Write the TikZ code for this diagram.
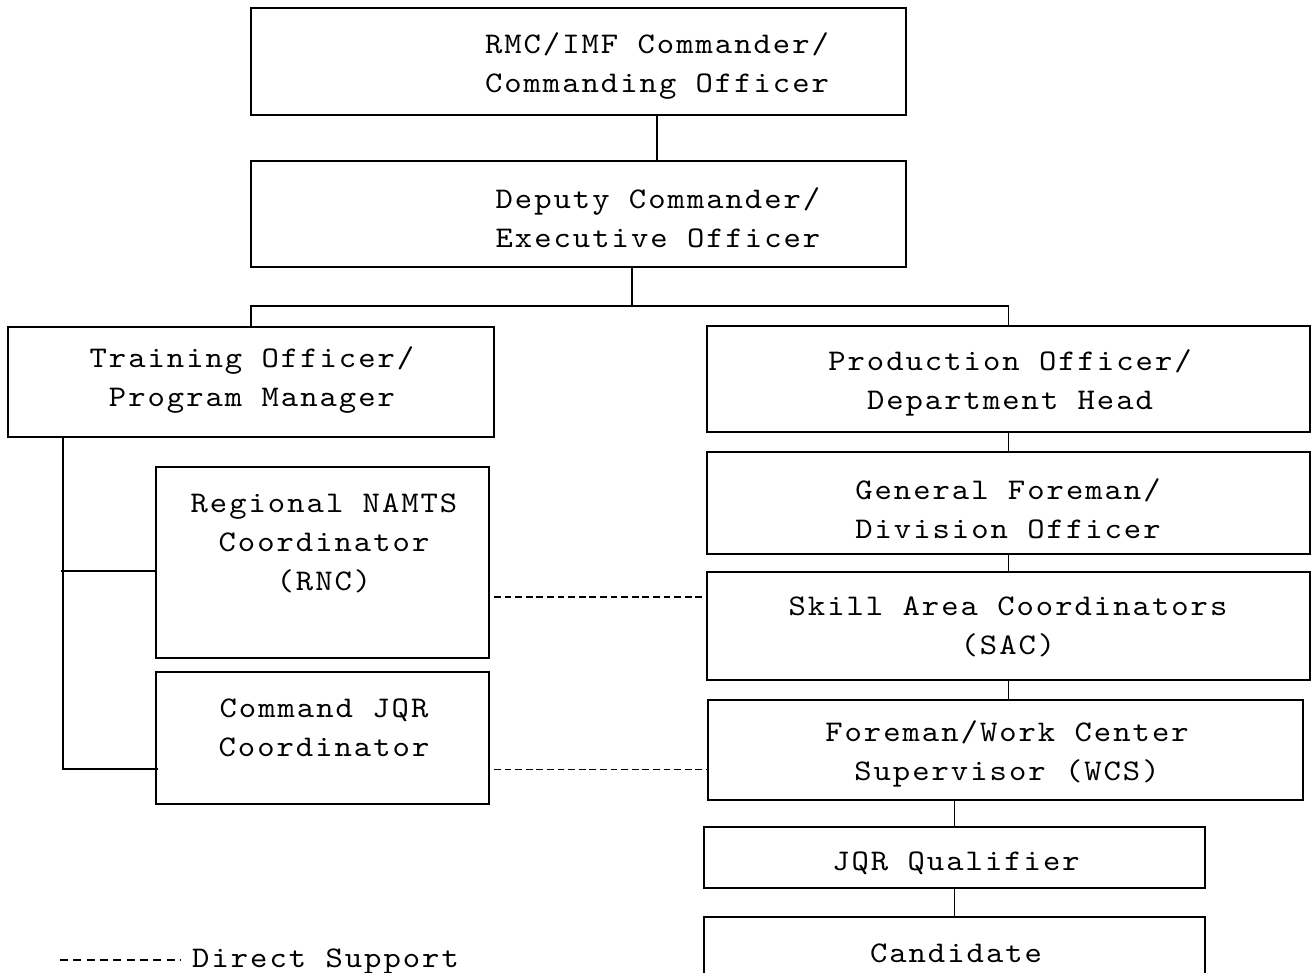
\documentclass[tikz,border=0pt]{standalone}
\usepackage{fontspec}
\newfontfamily\chartmono{lmmono10-regular.otf}[FakeStretch=1.1,LetterSpace=6.7]
\usetikzlibrary{fit,calc}
\begin{document}
\begin{tikzpicture}[x=1pt,y=-1pt,
  box/.style={draw, line width=2.2pt, inner sep=0pt},
  lbl/.style={font=\chartmono\fontsize{30}{39}\selectfont, align=center, inner sep=0pt},
  link/.style={line width=1.8pt},
  support/.style={line width=1.8pt, dash pattern=on 6.8pt off 3.8pt},
  legdash/.style={line width=1.7pt, dash pattern=on 8pt off 5.33pt}]
\useasboundingbox (0,0) rectangle (1312,973);
\clip (0,0) rectangle (1312,973);

% command chain
\node[box, fit={(251,8) (906,115)}] (cmd) {};
\node[lbl] (cmdT) at (657,66) {RMC/IMF Commander/\\Commanding Officer};
\node[box, fit={(251,161) (906,267)}] (dep) {};
\node[lbl] (depT) at (658,218) {Deputy Commander/\\Executive Officer};

% training side
\node[box, fit={(8,327) (494,437)}] (trn) {};
\node[lbl] (trnT) at (252,380) {Training Officer/\\Program Manager};
\node[box, fit={(156,467) (489,658)}] (rnc) {};
\node[lbl] (rncT) at (324,543) {Regional NAMTS\\Coordinator\\(RNC)};
\node[box, fit={(156,672) (489,804)}] (cjq) {};
\node[lbl] (cjqT) at (324,728) {Command JQR\\Coordinator};

% production side
\node[box, fit={(707,326) (1310,432)}] (prd) {};
\node[lbl] (prdT) at (1010,383) {Production Officer/\\Department Head};
\node[box, fit={(707,452) (1310,554)}] (gen) {};
\node[lbl] (genT) at (1008,509) {General Foreman/\\Division Officer};
\node[box, fit={(707,572) (1310,680)}] (sac) {};
\node[lbl] (sacT) at (1008,627) {Skill Area Coordinators\\(SAC)};
\node[box, fit={(708,700) (1303,800)}] (wcs) {};
\node[lbl] (wcsT) at (1007,754) {Foreman/Work Center\\Supervisor (WCS)};
\node[box, fit={(704,827) (1205,888)}] (jqq) {};
\node[lbl] (jqqT) at (956,863) {JQR Qualifier};
\node[box, fit={(704,917) (1205,995)}] (cand) {};
\node[lbl] (candT) at (956,953) {Candidate};

% reporting lines
\draw[link] (cmdT |- cmd.south) -- (cmdT |- dep.north);
\coordinate (bus) at (0,306);
\path ($(dep.south west)!0.582!(dep.south east)$) coordinate (depstem);
\draw[link] (depstem) -- (depstem |- bus);
\draw[link] (trn.north) -- (trn.north |- bus) -- (prd.north |- bus) -- (prd.north);
\draw[link] (prd.south) -- (gen.north);
\draw[link] (gen.south) -- (sac.north);
\draw[link] (sac.south) -- (sac.south |- wcs.north);
\draw[link] (jqq.north |- wcs.south) -- (jqq.north);
\draw[link] (jqq.south) -- (cand.north);

% training spine
\coordinate (spine) at (63,437);
\coordinate (rncIn) at (61,571);
\coordinate (cjqIn) at (158,769);
\draw[link] (spine |- trn.south) -- (spine |- cjqIn) -- (cjqIn);
\draw[link] (rncIn) -- (rncIn -| rnc.west);

% direct support lines
\coordinate (ds1) at (494,597);
\coordinate (ds2) at (494,769.5);
\draw[support] (ds1) -- (ds1 -| sac.west);
\draw[support] (ds2) -- (ds2 -| wcs.west);

% legend
\coordinate (legA) at (60,960);
\coordinate (legB) at (180,960);
\draw[legdash] (legA) -- (legB);
\node[lbl, anchor=base west] (legT) at (192,967) {Direct Support};
\end{tikzpicture}
\end{document}
